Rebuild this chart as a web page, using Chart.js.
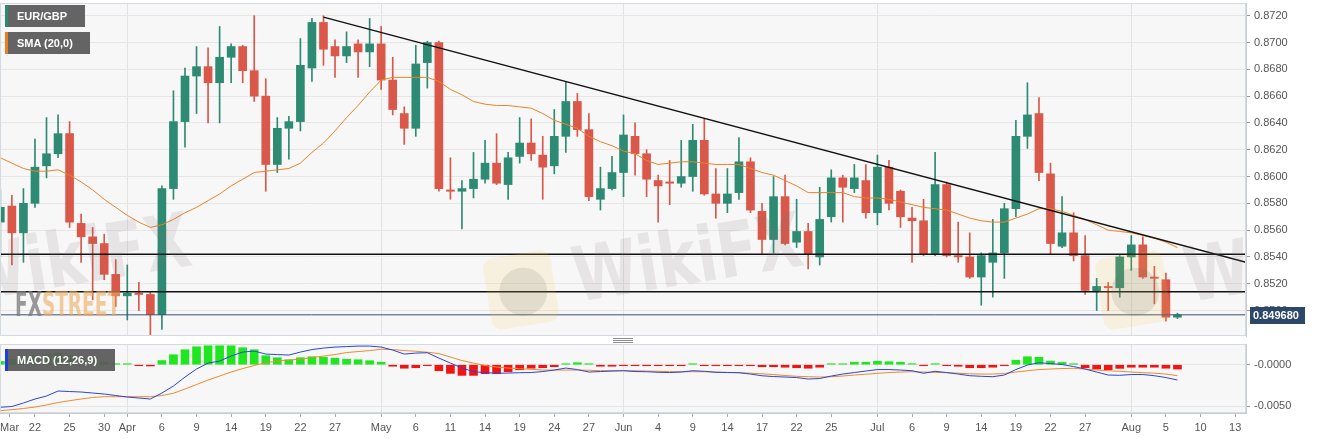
<!DOCTYPE html>
<html>
<head>
<meta charset="utf-8">
<script src="https://cdn.jsdelivr.net/npm/chart.js@4.4.0/dist/chart.umd.min.js"></script>
<style>
html,body{margin:0;padding:0;background:#fff;}
#wrap{position:relative;width:1323px;height:439px;overflow:hidden;}
canvas{position:absolute;left:0;}
#c1{top:0;}
#c2{top:338px;}
.tag{position:absolute;left:5px;height:22px;background:rgba(88,88,88,0.93);color:#fff;
  font:bold 11px Arial,"Liberation Sans",sans-serif;line-height:22px;padding:0 0 0 9px;box-sizing:border-box;border-left:3px solid;}
.grip{position:absolute;left:613px;width:20px;height:1px;background:#8a8a8a;}
</style>
</head>
<body>
<div id="wrap">
  <canvas id="c1" width="1323" height="338"></canvas>
  <canvas id="c2" width="1323" height="101"></canvas>
  <div class="tag" style="top:5px;width:80px;border-color:#2e8b73">EUR/GBP</div>
  <div class="tag" style="top:32px;width:85px;border-color:#e8801f">SMA (20,0)</div>
  <div class="tag" style="top:349px;width:110px;border-color:#1f3fdc">MACD (12,26,9)</div>
  <div class="grip" style="top:338px"></div>
  <div class="grip" style="top:340px"></div>
  <div class="grip" style="top:342px"></div>
</div>
<script>
// daily candles, first one is Mar 17 (slot -3), Mar 22 is slot 0
const FIRST_SLOT = -3;

const opens = [
  .8566,.8578,.8558,.8580,.8608,.8617,.8632,.8565,.8555,.8550,
  .8527,.8511,.8513,.8512,.8497,.8591,.8641,.8675,.8682,.8670,
  .8689,.8697,.8679,.8660,.8609,.8636,.8641,.8681,.8715,.8697,
  .8690,.8699,.8693,.8699,.8672,.8647,.8636,.8685,.8700,.8590,
  .8589,.8591,.8598,.8610,.8594,.8615,.8625,.8616,.8608,.8630,
  .8656,.8635,.8583,.8591,.8603,.8630,.8617,.8597,.8596,.8595,
  .8600,.8627,.8587,.8580,.8588,.8611,.8574,.8553,.8585,.8551,
  .8559,.8540,.8570,.8599,.8591,.8597,.8573,.8607,.8589,.8569,
  .8567,.8542,.8594,.8541,.8540,.8525,.8536,.8543,.8576,.8630,
  .8647,.8602,.8548,.8558,.8541,.8514,.8518,.8517,.8540,.8549,
  .8525,.8523,.8495
];
const highs = [
  .8590,.8586,.8591,.8628,.8644,.8646,.8641,.8572,.8562,.8557,
  .8538,.8534,.8521,.8514,.8593,.8664,.8681,.8697,.8696,.8712,
  .8699,.8698,.8720,.8673,.8644,.8645,.8703,.8718,.8720,.8702,
  .8708,.8702,.8718,.8712,.8689,.8652,.8698,.8701,.8701,.8614,
  .8597,.8618,.8627,.8632,.8618,.8644,.8643,.8630,.8650,.8671,
  .8662,.8647,.8607,.8615,.8646,.8640,.8620,.8601,.8612,.8627,
  .8639,.8643,.8606,.8606,.8629,.8614,.8580,.8600,.8601,.8583,
  .8565,.8592,.8605,.8601,.8609,.8609,.8616,.8612,.8590,.8577,
  .8583,.8618,.8596,.8566,.8558,.8543,.8568,.8580,.8642,.8670,
  .8659,.8610,.8585,.8573,.8556,.8524,.8521,.8541,.8556,.8555,
  .8533,.8528,.8498
];
const lows = [
  .8540,.8534,.8536,.8577,.8599,.8614,.8562,.8536,.8508,.8523,
  .8503,.8493,.8500,.8482,.8486,.8583,.8622,.8647,.8640,.8640,
  .8670,.8670,.8656,.8589,.8603,.8613,.8634,.8671,.8683,.8674,
  .8685,.8674,.8682,.8665,.8646,.8624,.8630,.8666,.8589,.8583,
  .8561,.8584,.8595,.8594,.8583,.8610,.8612,.8583,.8602,.8618,
  .8630,.8582,.8575,.8590,.8585,.8601,.8585,.8566,.8579,.8592,
  .8589,.8586,.8569,.8573,.8583,.8573,.8542,.8543,.8549,.8547,
  .8531,.8534,.8566,.8566,.8588,.8569,.8564,.8575,.8562,.8536,
  .8541,.8541,.8540,.8536,.8524,.8504,.8510,.8524,.8570,.8621,
  .8597,.8542,.8547,.8537,.8512,.8500,.8500,.8510,.8530,.8524,
  .8505,.8492,.8494
];
const closes = [
  .8577,.8558,.8580,.8607,.8617,.8632,.8566,.8555,.8550,.8527,
  .8511,.8513,.8512,.8497,.8591,.8641,.8675,.8682,.8670,.8689,
  .8697,.8679,.8660,.8609,.8636,.8641,.8683,.8715,.8695,.8690,
  .8697,.8693,.8699,.8672,.8650,.8636,.8684,.8700,.8591,.8589,
  .8591,.8598,.8610,.8595,.8614,.8625,.8617,.8607,.8630,.8656,
  .8635,.8585,.8591,.8603,.8631,.8617,.8598,.8593,.8595,.8600,
  .8627,.8587,.8580,.8587,.8611,.8575,.8553,.8585,.8550,.8559,
  .8542,.8568,.8599,.8592,.8599,.8573,.8607,.8580,.8570,.8567,
  .8542,.8594,.8541,.8540,.8525,.8541,.8543,.8576,.8630,.8646,
  .8603,.8550,.8558,.8541,.8515,.8518,.8517,.8540,.8549,.8525,
  .8524,.8495,.84968
];
const sma20 = [
  .8614,.8610,.8606,.8604,.8604,.8605,.8601,.8596,.8590,.8583,
  .8577,.8571,.8566,.8562,.8564,.8568,.8573,.8577,.8582,.8587,
  .8593,.8598,.8603,.8604,.8605,.8606,.8610,.8618,.8625,.8634,
  .8644,.8653,.8663,.8672,.8674,.8674,.8674,.8674,.8671,.8665,
  .8661,.8656,.8654,.8653,.8653,.8652,.8651,.8647,.8642,.8639,
  .8636,.8630,.8626,.8623,.8619,.8617,.8612,.8609,.8610,.8611,
  .8611,.8610,.8609,.8609,.8609,.8606,.8603,.8601,.8597,.8593,
  .8588,.8588,.8588,.8588,.8585,.8584,.8584,.8583,.8581,.8579,
  .8577,.8576,.8575,.8572,.8569,.8567,.8566,.8566,.8569,.8572,
  .8576,.8576,.8574,.8571,.8568,.8564,.8560,.8559,.8558,.8556,
  .8554,.8551,.8547
];
const macdLine = [
  -0.00511,-0.00502,-0.00460,-0.00412,-0.00376,-0.00316,-0.00322,-0.00328,-0.00340,-0.00352,
  -0.00370,-0.00388,-0.00400,-0.00412,-0.00340,-0.00256,-0.00148,-0.00052,0.00020,0.00044,
  0.00104,0.00152,0.00164,0.00128,0.00122,0.00116,0.00152,0.00182,0.00200,0.00212,
  0.00218,0.00224,0.00224,0.00212,0.00176,0.00128,0.00140,0.00144,0.00080,0.00020,
  -0.00040,-0.00084,-0.00094,-0.00103,-0.00100,-0.00096,-0.00094,-0.00082,-0.00064,-0.00040,
  -0.00058,-0.00088,-0.00082,-0.00076,-0.00072,-0.00082,-0.00084,-0.00091,-0.00094,-0.00088,
  -0.00072,-0.00079,-0.00091,-0.00094,-0.00096,-0.00112,-0.00133,-0.00142,-0.00148,-0.00154,
  -0.00172,-0.00166,-0.00136,-0.00112,-0.00094,-0.00076,-0.00058,-0.00058,-0.00064,-0.00072,
  -0.00103,-0.00079,-0.00094,-0.00112,-0.00132,-0.00139,-0.00144,-0.00124,-0.00058,-0.00004,
  0.00024,0.00014,0.00002,-0.00022,-0.00052,-0.00088,-0.00124,-0.00127,-0.00118,-0.00118,
  -0.00132,-0.00154,-0.00184
];
const signalLine = [
  -0.00552,-0.00540,-0.00526,-0.00508,-0.00484,-0.00454,-0.00432,-0.00412,-0.00394,-0.00384,
  -0.00384,-0.00384,-0.00384,-0.00384,-0.00370,-0.00343,-0.00292,-0.00238,-0.00184,-0.00136,
  -0.00088,-0.00046,-0.00010,0.00026,0.00044,0.00056,0.00068,0.00086,0.00104,0.00122,
  0.00146,0.00158,0.00170,0.00186,0.00182,0.00170,0.00162,0.00150,0.00134,0.00092,
  0.00050,0.00020,-0.00010,-0.00028,-0.00040,-0.00048,-0.00055,-0.00064,-0.00064,-0.00064,
  -0.00064,-0.00067,-0.00071,-0.00072,-0.00072,-0.00072,-0.00076,-0.00079,-0.00083,-0.00084,
  -0.00084,-0.00084,-0.00088,-0.00092,-0.00096,-0.00102,-0.00109,-0.00118,-0.00130,-0.00139,
  -0.00144,-0.00148,-0.00144,-0.00136,-0.00124,-0.00114,-0.00103,-0.00094,-0.00088,-0.00084,
  -0.00088,-0.00092,-0.00096,-0.00102,-0.00109,-0.00112,-0.00112,-0.00106,-0.00088,-0.00072,
  -0.00058,-0.00052,-0.00046,-0.00043,-0.00052,-0.00064,-0.00072,-0.00079,-0.00088,-0.00096,
  -0.00102,-0.00112,-0.00132
];
const macdHist = [
  0.00040,0.00060,0.00090,0.00110,0.00120,0.00140,0.00110,0.00080,0.00050,0.00030,
  0.00010,0.00005,-0.00010,-0.00015,0.00050,0.00120,0.00180,0.00216,0.00228,0.00228,
  0.00228,0.00204,0.00180,0.00108,0.00084,0.00060,0.00084,0.00096,0.00090,0.00078,
  0.00066,0.00060,0.00048,0.00030,-0.00018,-0.00042,-0.00036,-0.00010,-0.00072,-0.00104,
  -0.00128,-0.00128,-0.00108,-0.00108,-0.00084,-0.00060,-0.00042,-0.00036,-0.00024,0.00008,
  0.00024,0.00008,-0.00018,-0.00018,-0.00004,-0.00004,-0.00008,-0.00012,-0.00005,-0.00004,
  0.00005,-0.00005,-0.00008,-0.00008,-0.00004,-0.00005,-0.00024,-0.00024,-0.00030,-0.00036,
  -0.00042,-0.00030,0.00005,0.00012,0.00030,0.00030,0.00042,0.00036,0.00030,0.00012,
  -0.00005,0.00005,-0.00008,-0.00018,-0.00036,-0.00036,-0.00030,-0.00005,0.00054,0.00096,
  0.00090,0.00044,0.00028,0.00004,-0.00036,-0.00052,-0.00060,-0.00044,-0.00030,-0.00030,
  -0.00030,-0.00042,-0.00052
];

// drawn levels
const trendX = [25, 104.94];
const trendY = [0.8719, 0.8536];
const levels = [0.8542, 0.8514];

// axes
const tickPos = [-2.2,0,3,6,8,11,14,17,20,23,26,30,33,36,39,42,45,48,51,54,57,60,63,66,69,73,76,79,82,85,88,91,95,98,101,104];
const tickLabels = ['Mar','22','25','30','Apr','6','9','14','19','22','27','May','6','11','14','19','24','27','Jun','4','9','14','17','22','25','Jul','6','9','14','19','22','27','Aug','5','10','13'];
const monthPos = [8, 30, 51, 73, 95];
const priceTicks = [0.850,0.852,0.854,0.856,0.858,0.860,0.862,0.864,0.866,0.868,0.870,0.872];
const macdTicks = [-0.005, 0];
const macdTickLabels = ['-0.0050', '-0.0000'];

const X_MIN = -3.03, X_MAX = 104.94;
const UP = '#2e8b73', DOWN = '#d9584a';
const FONT = 'Arial, "Liberation Sans", sans-serif';

Chart.defaults.animation = false;
Chart.defaults.font.family = FONT;
Chart.defaults.font.size = 11;
Chart.defaults.color = '#555';

const slots = closes.map((_, i) => i + FIRST_SLOT);
const candleColors = closes.map((c, i) => c >= opens[i] ? UP : DOWN);
const lastClose = closes[closes.length - 1];

const panelBg = {
  id: 'panelBg',
  beforeDraw(chart) {
    const a = chart.chartArea, ctx = chart.ctx;
    ctx.save();
    ctx.fillStyle = '#f7f7f7';
    ctx.fillRect(a.left, a.top, a.right - a.left, a.bottom - a.top);
    ctx.restore();
  },
  afterDraw(chart) {
    const a = chart.chartArea, ctx = chart.ctx;
    ctx.save();
    ctx.strokeStyle = '#d5d9e2';
    ctx.lineWidth = 1;
    ctx.strokeRect(a.left + 0.5, a.top + 0.5, a.right - a.left - 1, a.bottom - a.top - 1);
    ctx.restore();
  }
};

function stretchText(ctx, text, x, y, w, size, font) {
  ctx.font = 'bold ' + size + 'px ' + font;
  const m = ctx.measureText(text).width;
  ctx.save();
  ctx.translate(x, y);
  ctx.scale(w / m, 1);
  ctx.fillText(text, 0, 0);
  ctx.restore();
}

const watermarks = {
  id: 'watermarks',
  afterDatasetsDraw(chart) {
    const ctx = chart.ctx, a = chart.chartArea;
    ctx.save();
    ctx.beginPath();
    ctx.rect(a.left, a.top, a.right - a.left, a.bottom - a.top);
    ctx.clip();
    [-612, 0, 612].forEach(dx => {
      // logo
      ctx.save();
      ctx.translate(521 + dx, 290);
      ctx.rotate(-0.16);
      ctx.fillStyle = 'rgba(245,200,80,0.14)';
      ctx.beginPath();
      ctx.roundRect(-34, -36, 68, 72, 10);
      ctx.fill();
      ctx.fillStyle = 'rgba(110,105,105,0.15)';
      ctx.beginPath();
      ctx.arc(2, 2, 24, 0, Math.PI * 2);
      ctx.fill();
      ctx.restore();
      // word
      ctx.save();
      ctx.translate(577 + dx, 302);
      ctx.rotate(-0.16);
      ctx.fillStyle = 'rgba(125,110,110,0.14)';
      stretchText(ctx, 'WikiFX', 0, 0, 232, 76, '"DejaVu Sans", sans-serif');
      ctx.restore();
    });
    // FXSTREET mark
    ctx.textBaseline = 'alphabetic';
    ctx.font = 'bold 34px "Liberation Sans Narrow", "DejaVu Sans Condensed", sans-serif';
    const wAll = ctx.measureText('FXSTREET').width;
    const wFx = ctx.measureText('FX').width;
    const k = 105 / wAll;
    ctx.save();
    ctx.translate(15, 316);
    ctx.scale(k, 1);
    ctx.fillStyle = 'rgba(120,120,120,0.75)';
    ctx.fillText('FX', 0, 0);
    ctx.fillStyle = 'rgba(236,172,95,0.6)';
    ctx.fillText('STREET', wFx, 0);
    ctx.restore();
    ctx.restore();
  }
};

const priceTag = {
  id: 'priceTag',
  afterDraw(chart) {
    const ctx = chart.ctx, y = chart.scales.y.getPixelForValue(lastClose);
    ctx.save();
    ctx.fillStyle = '#2c4769';
    ctx.fillRect(1250, Math.round(y) - 8, 55, 17);
    ctx.fillStyle = '#fff';
    ctx.font = 'bold 11px ' + FONT;
    ctx.textBaseline = 'middle';
    ctx.textAlign = 'left';
    ctx.fillText(lastClose.toFixed(6), 1253, Math.round(y) + 0.5);
    ctx.restore();
  }
};

// keep the plot edges where the reference has them
const noPad = s => { s.paddingTop = 0; s.paddingBottom = 0; s.paddingLeft = 0; s.paddingRight = 0; };
const monthGrid = c => (c.tick && monthPos.includes(c.tick.value)) ? '#e2e2e2' : 'rgba(0,0,0,0)';
const xTicks = s => { s.ticks = tickPos.map(v => ({ value: v })); };
const hline = (v, color, w) => ({
  type: 'line',
  data: [{ x: X_MIN, y: v }, { x: X_MAX, y: v }],
  borderColor: color, borderWidth: w, pointRadius: 0, order: 0
});

new Chart(document.getElementById('c1'), {
  type: 'bar',
  data: {
    datasets: [
      {
        data: slots.map((x, i) => ({ x, y: [lows[i], highs[i]] })),
        backgroundColor: candleColors, barThickness: 1, grouped: false, order: 3
      },
      {
        data: slots.map((x, i) => ({ x, y: [opens[i], closes[i]] })),
        backgroundColor: candleColors, barThickness: 8, minBarLength: 1, grouped: false, order: 2
      },
      {
        type: 'line',
        data: slots.map((x, i) => ({ x, y: sma20[i] })),
        borderColor: '#ea8428', borderWidth: 1, pointRadius: 0, order: 1
      },
      {
        type: 'line',
        data: trendX.map((x, i) => ({ x, y: trendY[i] })),
        borderColor: '#111', borderWidth: 1.4, pointRadius: 0, order: 0
      },
      hline(levels[0], '#111', 1.4),
      hline(levels[1], '#111', 1.4),
      hline(lastClose, '#3b4f73', 1)
    ]
  },
  options: {
    responsive: false,
    layout: { padding: { top: 3, bottom: 2, left: 0, right: 0 } },
    plugins: { legend: { display: false }, tooltip: { enabled: false } },
    scales: {
      x: {
        type: 'linear', min: X_MIN, max: X_MAX, offset: false,
        afterBuildTicks: xTicks,
        ticks: { display: false },
        grid: { offset: false, drawTicks: false, color: monthGrid },
        border: { display: false },
        afterFit: s => { s.height = 0; noPad(s); }
      },
      y: {
        position: 'right', min: 0.8481, max: 0.87295,
        afterBuildTicks: s => { s.ticks = priceTicks.map(v => ({ value: v })); },
        ticks: { callback: v => v.toFixed(4), padding: 4, color: '#555' },
        grid: { color: '#e6e6e6', tickColor: '#999', tickLength: 4 },
        border: { color: '#c9ccd3' },
        afterFit: s => { s.width = 77; noPad(s); }
      }
    }
  },
  plugins: [panelBg, watermarks, priceTag]
});

new Chart(document.getElementById('c2'), {
  type: 'bar',
  data: {
    datasets: [
      {
        data: slots.map((x, i) => ({ x, y: macdHist[i] })),
        backgroundColor: macdHist.map(v => v >= 0 ? '#1fe61f' : '#f01414'),
        barThickness: 8, minBarLength: 1, grouped: false, order: 2
      },
      {
        type: 'line',
        data: slots.map((x, i) => ({ x, y: macdLine[i] })),
        borderColor: '#2a46d6', borderWidth: 1, pointRadius: 0, order: 0
      },
      {
        type: 'line',
        data: slots.map((x, i) => ({ x, y: signalLine[i] })),
        borderColor: '#ef8a2c', borderWidth: 1, pointRadius: 0, order: 1
      }
    ]
  },
  options: {
    responsive: false,
    layout: { padding: { top: 6, bottom: 0, left: 0, right: 0 } },
    plugins: { legend: { display: false }, tooltip: { enabled: false } },
    scales: {
      x: {
        type: 'linear', min: X_MIN, max: X_MAX, offset: false,
        afterBuildTicks: xTicks,
        ticks: { callback: (v, i) => tickLabels[i], autoSkip: false, maxRotation: 0, padding: 4, color: '#555' },
        grid: { offset: false, color: monthGrid, tickColor: '#aaa', tickLength: 4 },
        border: { color: '#c9ccd3' },
        afterFit: s => { s.height = 26; noPad(s); }
      },
      y: {
        position: 'right', min: -0.0058, max: 0.00249,
        afterBuildTicks: s => { s.ticks = macdTicks.map(v => ({ value: v })); },
        ticks: { callback: (v, i) => macdTickLabels[i], padding: 4, color: '#555' },
        grid: { color: '#e6e6e6', tickColor: '#999', tickLength: 4 },
        border: { color: '#c9ccd3' },
        afterFit: s => { s.width = 77; noPad(s); }
      }
    }
  },
  plugins: [panelBg]
});
</script>
</body>
</html>
